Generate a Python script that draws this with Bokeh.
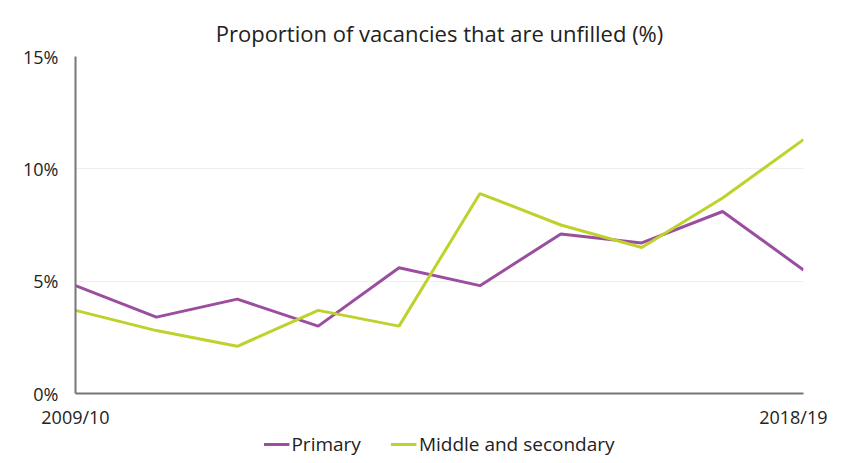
from bokeh.plotting import figure
from bokeh.layouts import column
from bokeh.models import FixedTicker, Legend, LegendItem, Range1d, ColumnDataSource
from bokeh.embed import file_html
from bokeh.resources import INLINE

years = ["2009/10", "2010/11", "2011/12", "2012/13", "2013/14",
         "2014/15", "2015/16", "2016/17", "2017/18", "2018/19"]
primary = [4.8, 3.4, 4.2, 3.0, 5.6, 4.8, 7.1, 6.7, 8.1, 5.5]
middle_secondary = [3.7, 2.8, 2.1, 3.7, 3.0, 8.9, 7.5, 6.5, 8.7, 11.3]
y_ticks = [0, 5, 10, 15]
y_tick_labels = ["0%", "5%", "10%", "15%"]
series_names = ["Primary", "Middle and secondary"]
series_colors = ["#9b4d9f", "#bfd22b"]

FONT = "Open Sans"
idx = list(range(len(years)))
src = ColumnDataSource(dict(x=idx, primary=primary, ms=middle_secondary))

p = figure(width=827, height=431, output_backend="svg", toolbar_location=None,
           x_range=Range1d(0, len(years) - 1), y_range=Range1d(0, 15),
           min_border_left=75, min_border_right=24, min_border_top=56, min_border_bottom=38)

p.title.text = "Proportion of vacancies that are unfilled (%)"
p.title.align = "center"
p.title.text_font = FONT
p.title.text_font_size = "22px"
p.title.text_font_style = "normal"
p.title.text_color = "#222222"
p.title.offset = 0
p.title.standoff = 18

p.outline_line_color = None

p.line("x", "primary", source=src, line_color=series_colors[0], line_width=3)
p.line("x", "ms", source=src, line_color=series_colors[1], line_width=3)

p.xaxis.ticker = FixedTicker(ticks=[0, len(years) - 1])
p.xaxis.major_label_overrides = {0: years[0], len(years) - 1: years[-1]}
p.xaxis.major_tick_line_color = None
p.xaxis.minor_tick_line_color = None
p.xaxis.axis_line_color = "#777777"
p.xaxis.axis_line_width = 2
p.xaxis.major_label_text_font = FONT
p.xaxis.major_label_text_font_size = "18px"
p.xaxis.major_label_text_color = "#222222"
p.xaxis.major_label_standoff = 5

p.yaxis.ticker = FixedTicker(ticks=y_ticks)
p.yaxis.major_label_overrides = dict(zip(y_ticks, y_tick_labels))
p.yaxis.major_tick_line_color = None
p.yaxis.minor_tick_line_color = None
p.yaxis.axis_line_color = "#777777"
p.yaxis.axis_line_width = 2
p.yaxis.major_label_text_font = FONT
p.yaxis.major_label_text_font_size = "18px"
p.yaxis.major_label_text_color = "#222222"
p.yaxis.major_label_standoff = 11

p.xgrid.grid_line_color = None
p.ygrid.grid_line_color = "#eeeeee"
p.ygrid.grid_line_width = 1

# legend strip below the chart (renderers kept outside the visible range)
lg = figure(width=827, height=26, output_backend="svg", toolbar_location=None,
            x_range=Range1d(0, 1), y_range=Range1d(0, 1),
            min_border=0, outline_line_color=None)
lg.axis.visible = False
lg.grid.visible = False
items = []
for name, col in zip(series_names, series_colors):
    r = lg.line(x=[5, 6], y=[5, 6], line_color=col, line_width=3)
    items.append(LegendItem(label=name, renderers=[r]))
legend = Legend(items=items, orientation="horizontal", location="center",
                label_text_font=FONT, label_text_font_size="19px",
                label_text_color="#222222", glyph_width=26, glyph_height=14,
                spacing=30, padding=0, margin=0, border_line_color=None,
                background_fill_alpha=0, label_standoff=2)
lg.add_layout(legend)

layout = column(p, lg, spacing=0)
open("out.html", "w").write(file_html(layout, INLINE))
